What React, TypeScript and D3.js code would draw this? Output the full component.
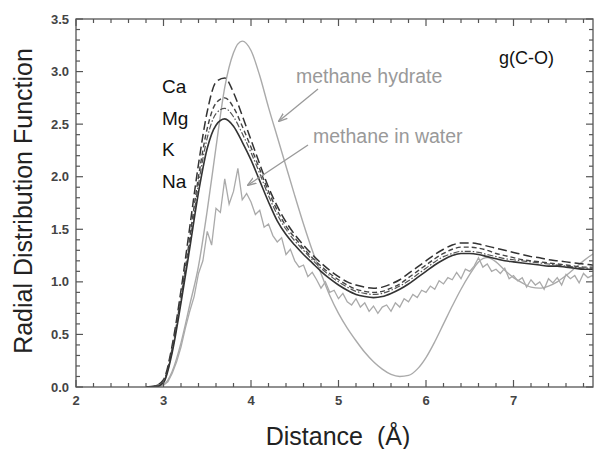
import React from "react";
import * as d3 from "d3";

const rGrid = [2.8,2.9,3.0,3.1,3.2,3.3,3.4,3.5,3.6,3.7,3.8,3.9,4.0,4.1,4.2,4.3,4.4,4.5,4.6,4.7,4.8,4.9,5.0,5.1,5.2,5.3,5.4,5.5,5.6,5.7,5.8,5.9,6.0,6.1,6.2,6.3,6.4,6.5,6.6,6.7,6.8,6.9,7.0,7.1,7.2,7.3,7.4,7.5,7.6,7.7,7.8,7.9,8.0];

const gCa = [0,0.01,0.07,0.40,0.92,1.52,2.12,2.62,2.90,2.94,2.80,2.58,2.35,2.12,1.90,1.72,1.57,1.45,1.35,1.26,1.18,1.11,1.05,1.00,0.97,0.95,0.94,0.95,0.98,1.02,1.08,1.14,1.20,1.26,1.31,1.35,1.37,1.37,1.36,1.34,1.32,1.30,1.28,1.26,1.24,1.23,1.21,1.20,1.19,1.18,1.17,1.16,1.15];
const gMg = [0,0.01,0.06,0.37,0.86,1.42,2.00,2.46,2.70,2.75,2.66,2.48,2.28,2.07,1.86,1.68,1.53,1.42,1.32,1.23,1.15,1.08,1.02,0.97,0.93,0.91,0.90,0.91,0.94,0.98,1.04,1.10,1.16,1.22,1.27,1.31,1.33,1.33,1.32,1.30,1.27,1.25,1.23,1.21,1.20,1.19,1.18,1.17,1.16,1.15,1.14,1.14,1.13];
const gK = [0,0,0.05,0.35,0.83,1.37,1.93,2.37,2.60,2.65,2.57,2.41,2.23,2.03,1.82,1.64,1.50,1.39,1.30,1.21,1.13,1.06,1.00,0.95,0.91,0.89,0.88,0.89,0.92,0.96,1.01,1.07,1.13,1.19,1.24,1.27,1.29,1.29,1.28,1.26,1.24,1.22,1.21,1.20,1.19,1.18,1.17,1.16,1.15,1.14,1.13,1.13,1.12];
const gNa = [0,0,0.04,0.33,0.80,1.32,1.85,2.27,2.49,2.55,2.48,2.33,2.16,1.96,1.76,1.58,1.45,1.35,1.26,1.18,1.10,1.03,0.97,0.92,0.88,0.86,0.85,0.86,0.89,0.93,0.98,1.04,1.10,1.16,1.21,1.25,1.27,1.27,1.26,1.24,1.22,1.20,1.19,1.18,1.17,1.16,1.15,1.15,1.14,1.13,1.12,1.12,1.11];
const gHydrate = [0,0,0.02,0.15,0.42,0.78,1.15,1.68,2.28,2.85,3.18,3.29,3.20,2.96,2.66,2.38,2.10,1.82,1.55,1.30,1.08,0.87,0.70,0.56,0.44,0.33,0.24,0.17,0.12,0.10,0.11,0.17,0.28,0.43,0.60,0.77,0.93,1.07,1.19,1.23,1.19,1.11,1.04,0.99,0.95,0.94,0.96,1.00,1.06,1.13,1.20,1.26,1.31];

const rWater = [3.00,3.05,3.10,3.15,3.20,3.25,3.30,3.35,3.40,3.45,3.50,3.55,3.60,3.65,3.70,3.75,3.80,3.85,3.90,3.95,4.00,4.05,4.10,4.15,4.20,4.25,4.30,4.35,4.40,4.45,4.50,4.55,4.60,4.65,4.70,4.75,4.80,4.85,4.90,4.95,5.00,5.05,5.10,5.15,5.20,5.25,5.30,5.35,5.40,5.45,5.50,5.55,5.60,5.65,5.70,5.75,5.80,5.85,5.90,5.95,6.00,6.05,6.10,6.15,6.20,6.25,6.30,6.35,6.40,6.45,6.50,6.55,6.60,6.65,6.70,6.75,6.80,6.85,6.90,6.95,7.00,7.05,7.10,7.15,7.20,7.25,7.30,7.35,7.40,7.45,7.50,7.55,7.60,7.65,7.70,7.75,7.80,7.85,7.90,7.95];
const gWater = [0.02,0.05,0.13,0.24,0.38,0.56,0.72,0.86,1.08,1.20,1.48,1.35,1.70,1.66,1.98,1.74,1.86,2.08,1.78,1.84,1.76,1.64,1.68,1.52,1.55,1.44,1.38,1.42,1.26,1.31,1.20,1.14,1.16,1.05,1.09,1.02,0.94,1.00,0.90,0.92,0.84,0.89,0.81,0.78,0.84,0.76,0.80,0.72,0.77,0.70,0.76,0.78,0.72,0.80,0.76,0.84,0.81,0.88,0.85,0.92,0.90,0.96,0.93,1.01,0.98,1.04,1.02,1.09,1.03,1.12,1.10,1.15,1.23,1.14,1.17,1.10,1.12,1.08,1.13,1.03,1.06,1.01,1.04,0.95,1.02,0.97,1.00,0.93,1.03,0.99,1.04,0.97,1.07,1.03,1.06,0.99,1.08,1.04,1.06,1.03];

const xTickValues = [2, 3, 4, 5, 6, 7];
const yTickValues = [0, 0.5, 1.0, 1.5, 2.0, 2.5, 3.0, 3.5];
const ionLabels = ["Ca", "Mg", "K", "Na"];

const W = 595, H = 449;
const L = 76, R = 593, T = 19, B = 387;

export default function App() {
  const x = d3.scaleLinear().domain([2, 2 + (R - L) / 87.5]).range([L, R]);
  const y = d3.scaleLinear().domain([0, 3.5]).range([B, T]);
  const line = d3.line<[number, number]>().x(d => x(d[0])).y(d => y(d[1])).curve(d3.curveMonotoneX);
  const lineRaw = d3.line<[number, number]>().x(d => x(d[0])).y(d => y(d[1]));
  const zip = (xs: number[], ys: number[]) => xs.map((v, i) => [v, ys[i]] as [number, number]);

  const xMinor = d3.range(2, 8.0001, 0.2).filter(v => x(v) <= R + 0.5);
  const yMinor = d3.range(0, 3.5001, 0.1);
  const axisColor = "#555";
  const font = "Liberation Sans, Arial, Helvetica, sans-serif";

  const series = [
    { ys: gCa, dash: "9,4", color: "#333", w: 1.5 },
    { ys: gMg, dash: "5,3", color: "#444", w: 1.4 },
    { ys: gK, dash: "6,2,1.5,2", color: "#555", w: 1.2 },
    { ys: gNa, dash: "", color: "#333", w: 1.6 },
  ];

  return (
    <svg width={W} height={H} style={{ position: "absolute", left: 0, top: 0, background: "#fff" }} fontFamily={font}>
      <defs>
        <clipPath id="plot"><rect x={L} y={T} width={R - L} height={B - T} /></clipPath>
        <marker id="arr" viewBox="0 0 10 10" refX="9" refY="5" markerWidth="7" markerHeight="7" orient="auto">
          <path d="M0,1.5 L10,5 L0,8.5" fill="none" stroke="#999" strokeWidth="1.5" />
        </marker>
      </defs>
      <g clipPath="url(#plot)">
        <path d={line(zip(rGrid, gHydrate)) || ""} fill="none" stroke="#aaa" strokeWidth={1.4} />
        <path d={lineRaw(zip(rWater, gWater)) || ""} fill="none" stroke="#aaa" strokeWidth={1.3} />
        {series.map((s, i) => (
          <path key={i} d={line(zip(rGrid, s.ys)) || ""} fill="none" stroke={s.color} strokeWidth={s.w} strokeDasharray={s.dash || undefined} />
        ))}
      </g>
      <rect x={L} y={T} width={R - L} height={B - T} fill="none" stroke={axisColor} strokeWidth={1.3} />
      {xMinor.map((v, i) => {
        const major = Math.abs(v - Math.round(v)) < 1e-6;
        const len = major ? 7 : 4;
        return (
          <g key={"x" + i} stroke={axisColor} strokeWidth={1.2}>
            <line x1={x(v)} x2={x(v)} y1={B} y2={B - len} />
            <line x1={x(v)} x2={x(v)} y1={T} y2={T + len} />
          </g>
        );
      })}
      {yMinor.map((v, i) => {
        const major = Math.abs(v * 2 - Math.round(v * 2)) < 1e-6;
        const len = major ? 7 : 4;
        return (
          <g key={"y" + i} stroke={axisColor} strokeWidth={1.2}>
            <line x1={L} x2={L + len} y1={y(v)} y2={y(v)} />
            <line x1={R} x2={R - len} y1={y(v)} y2={y(v)} />
          </g>
        );
      })}
      {xTickValues.map(v => (
        <text key={"xl" + v} x={x(v)} y={405} textAnchor="middle" fontSize={13} fontWeight="bold" fill="#444">{String(v)}</text>
      ))}
      {yTickValues.map(v => (
        <text key={"yl" + v} x={69} y={y(v) + 4.5} textAnchor="end" fontSize={13} fontWeight="bold" fill="#444">{v.toFixed(1)}</text>
      ))}
      <text x={338} y={445} textAnchor="middle" fontSize={25} fill="#222" xmlSpace="preserve">Distance  (Å)</text>
      <text transform="translate(32,201) rotate(-90)" textAnchor="middle" fontSize={25} fill="#222">Radial Distribution Function</text>
      {ionLabels.map((t, i) => (
        <text key={t} x={162} y={93 + i * 31.5} fontSize={19} fill="#111">{t}</text>
      ))}
      <text x={499} y={64} fontSize={18} fill="#111">g(C-O)</text>
      <text x={296} y={83} fontSize={19.5} fill="#999">methane hydrate</text>
      <text x={313} y={143} fontSize={19.5} fill="#999">methane in water</text>
      <line x1={318} y1={89} x2={279} y2={121} stroke="#999" strokeWidth={1.3} markerEnd="url(#arr)" />
      <line x1={308} y1={145} x2={248} y2={185} stroke="#999" strokeWidth={1.3} markerEnd="url(#arr)" />
    </svg>
  );
}
